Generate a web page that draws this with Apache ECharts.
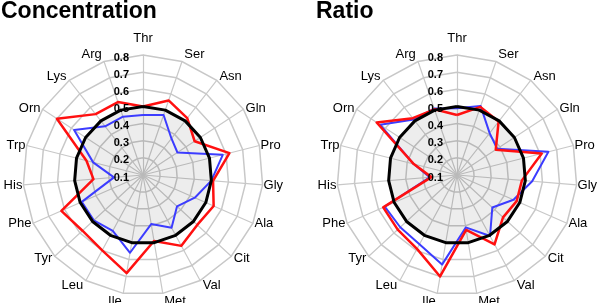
<!DOCTYPE html>
<html>
<head>
<meta charset="utf-8">
<script src="https://cdn.jsdelivr.net/npm/echarts@6/dist/echarts.min.js"></script>
<style>
  html, body { margin: 0; padding: 0; background: #fff; }
  #chart { width: 600px; height: 303px; }
</style>
</head>
<body>
<div id="chart"></div>
<script>
// axes in clockwise order, starting at the top
const aminoAcids = ['Thr', 'Ser', 'Asn', 'Gln', 'Pro', 'Gly', 'Ala', 'Cit', 'Val', 'Met',
  'Ile', 'Leu', 'Tyr', 'Phe', 'His', 'Trp', 'Orn', 'Lys', 'Arg']
const tickLabels = ['0.1', '0.2', '0.3', '0.4', '0.5', '0.6', '0.7', '0.8']

const concRed = [0.50, 0.56, 0.52, 0.46, 0.62, 0.51, 0.55, 0.53, 0.57, 0.49,
  0.68, 0.60, 0.58, 0.62, 0.39, 0.44, 0.70, 0.55, 0.55]
const concBlue = [0.45, 0.47, 0.37, 0.34, 0.58, 0.50, 0.43, 0.37, 0.45, 0.39,
  0.56, 0.47, 0.49, 0.49, 0.27, 0.40, 0.58, 0.46, 0.46]
const concBlack = [0.50, 0.50, 0.50, 0.50, 0.50, 0.50, 0.50, 0.50, 0.50, 0.50,
  0.50, 0.50, 0.50, 0.50, 0.50, 0.50, 0.50, 0.50, 0.50]

const ratioRed = [0.45, 0.52, 0.495, 0.37, 0.61, 0.48, 0.48, 0.465, 0.56, 0.425,
  0.70, 0.59, 0.57, 0.57, 0.25, 0.36, 0.66, 0.52, 0.505]
const ratioBlue = [0.49, 0.525, 0.41, 0.38, 0.65, 0.54, 0.46, 0.38, 0.505, 0.41,
  0.63, 0.56, 0.55, 0.56, 0.26, 0.36, 0.635, 0.51, 0.51]
const ratioBlack = [0.50, 0.50, 0.50, 0.50, 0.50, 0.50, 0.50, 0.50, 0.50, 0.50,
  0.50, 0.50, 0.50, 0.50, 0.50, 0.50, 0.50, 0.50, 0.50]

// echarts lays indicators out counter-clockwise, so keep the first and flip the rest
const ccw = arr => [arr[0]].concat(arr.slice(1).reverse())
const step = 2 * Math.PI / aminoAcids.length

// names sit on a ring: side labels need a smaller gap than top/bottom ones
const gridIndicators = ccw(aminoAcids).map((name, i) => ({
  name, min: 0.1, max: 0.8,
  nameGap: 10 - 9 * Math.abs(Math.sin(i * step)),
}))
const labelIndicators = ccw(aminoAcids).map((name, i) => ({
  name, min: 0.1, max: 0.8,
  axisLabel: { show: i === 0 },
}))

const nameFont = { color: '#000', fontSize: 13, fontFamily: 'Liberation Sans' }
const gridGray = '#c8c8c8'

function gridRadar(center) {
  return {
    center, radius: 120, startAngle: 90, splitNumber: tickLabels.length - 1,
    indicator: gridIndicators,
    axisName: nameFont,
    axisLine: { lineStyle: { color: gridGray, width: 1.2 } },
    splitLine: { lineStyle: { color: gridGray, width: 1.5 } },
    splitArea: { show: false },
    axisLabel: { show: false },
  }
}

// second radar on top, only to carry the tick labels above the filled area
function labelRadar(center) {
  return {
    center, radius: 120, startAngle: 90, splitNumber: tickLabels.length - 1, z: 10,
    indicator: labelIndicators,
    axisName: { show: false },
    axisLine: { show: false },
    splitLine: { show: false },
    splitArea: { show: false },
    axisLabel: {
      show: true, color: '#000', fontSize: 11, fontWeight: 'bold',
      fontFamily: 'Liberation Sans', margin: 14,
      align: 'right', verticalAlign: 'top', padding: [-3, 0, 0, 0],
      formatter: v => tickLabels[Math.round(v * 10) - 1],
    },
  }
}

function radarSeries(idx, red, blue, black) {
  return {
    type: 'radar', radarIndex: idx, symbol: 'none', silent: true,
    data: [
      { value: ccw(black), lineStyle: { width: 0, opacity: 0 }, areaStyle: { color: 'rgba(0,0,0,0.07)', opacity: 1 } },
      { value: ccw(blue), lineStyle: { color: '#3c3cff', width: 2 } },
      { value: ccw(red), lineStyle: { color: '#ff1010', width: 2.5 } },
      { value: ccw(black), lineStyle: { color: '#000', width: 3 } },
    ],
  }
}

const titleFont = { fontSize: 23, fontWeight: 'bold', fontFamily: 'Liberation Sans', color: '#000' }

const chart = echarts.init(document.getElementById('chart'))
chart.setOption({
  animation: false,
  title: [
    { text: 'Concentration', left: -4, top: -5, textStyle: titleFont },
    { text: 'Ratio', left: 311, top: -5, textStyle: titleFont },
  ],
  radar: [
    gridRadar([143, 175]), gridRadar([457, 175]),
    labelRadar([143, 175]), labelRadar([457, 175]),
  ],
  series: [
    radarSeries(0, concRed, concBlue, concBlack),
    radarSeries(1, ratioRed, ratioBlue, ratioBlack),
  ],
})
</script>
</body>
</html>
